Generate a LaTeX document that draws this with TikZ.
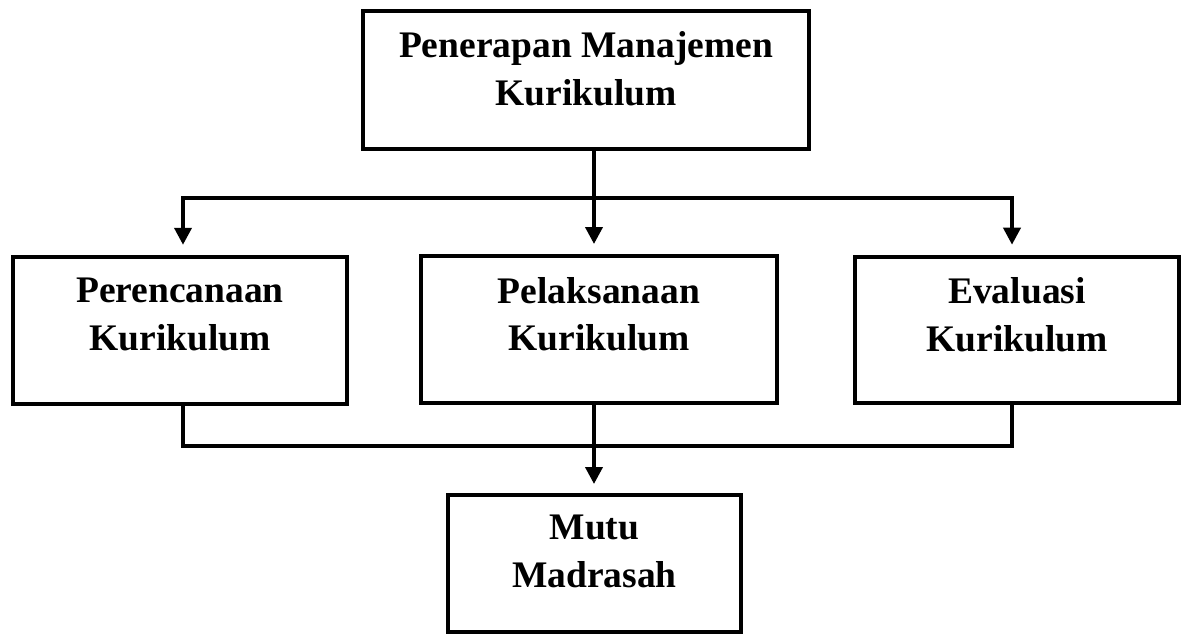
\documentclass[tikz,border=0pt]{standalone}
\usepackage{fontspec}
\setmainfont{Liberation Serif}
\usetikzlibrary{arrows.meta,calc}
\tikzset{
  boxnode/.style={draw, line width=4pt, inner sep=0pt},
  lbl/.style={font=\fontsize{37.5}{47.5}\selectfont\bfseries, align=center, inner sep=0pt},
  conn/.style={line width=3.8pt, line join=miter},
  arr/.style={conn, -{Triangle[width=17pt,length=17pt]}},
}
\begin{document}
\begin{tikzpicture}[x=1pt,y=-1pt]
\useasboundingbox (0,0) rectangle (1186,635);
% boxes
\node[boxnode, minimum width=446pt, minimum height=138pt] (top) at (586,80) {};
\node[boxnode, minimum width=334pt, minimum height=147pt] (left) at (179.7,330.3) {};
\node[boxnode, minimum width=356pt, minimum height=147pt] (mid) at (599,329.5) {};
\node[boxnode, minimum width=324pt, minimum height=146pt] (right) at (1017,329.7) {};
\node[boxnode, minimum width=293pt, minimum height=137pt] (bot) at (594.5,563.5) {};
% labels
\node[lbl] (ttop) at (586,68.5) {Penerapan Manajemen\\Kurikulum};
\node[lbl] (tleft) at (180,314.5) {Perencanaan\\Kurikulum};
\node[lbl] (tmid) at (599,314) {Pelaksanaan\\Kurikulum};
\node[lbl] (tright) at (1017,314.5) {Evaluasi\\Kurikulum};
\node[lbl] (tbot) at (594.5,551.5) {Mutu\\Madrasah};
% junctions
\coordinate (jt) at (594,198);
\coordinate (jl) at (183,198);
\coordinate (jr) at (1012,198);
\coordinate (bm) at (594,446);
\coordinate (bl) at (183,446);
\coordinate (br) at (1012,446);
% top connectors
\draw[arr, shorten >=10pt] (top.south -| jt) -- (mid.north -| jt);
\draw[arr, shorten >=10pt] (jt) -- (jl) -- (left.north -| jl);
\draw[arr, shorten >=10pt] (jt) -- (jr) -- (right.north -| jr);
% bottom connectors
\draw[conn] (left.south -| bl) -- (bl) -- (br) -- (right.south -| br);
\draw[arr, shorten >=9pt] (mid.south -| bm) -- (bot.north -| bm);
\end{tikzpicture}
\end{document}
